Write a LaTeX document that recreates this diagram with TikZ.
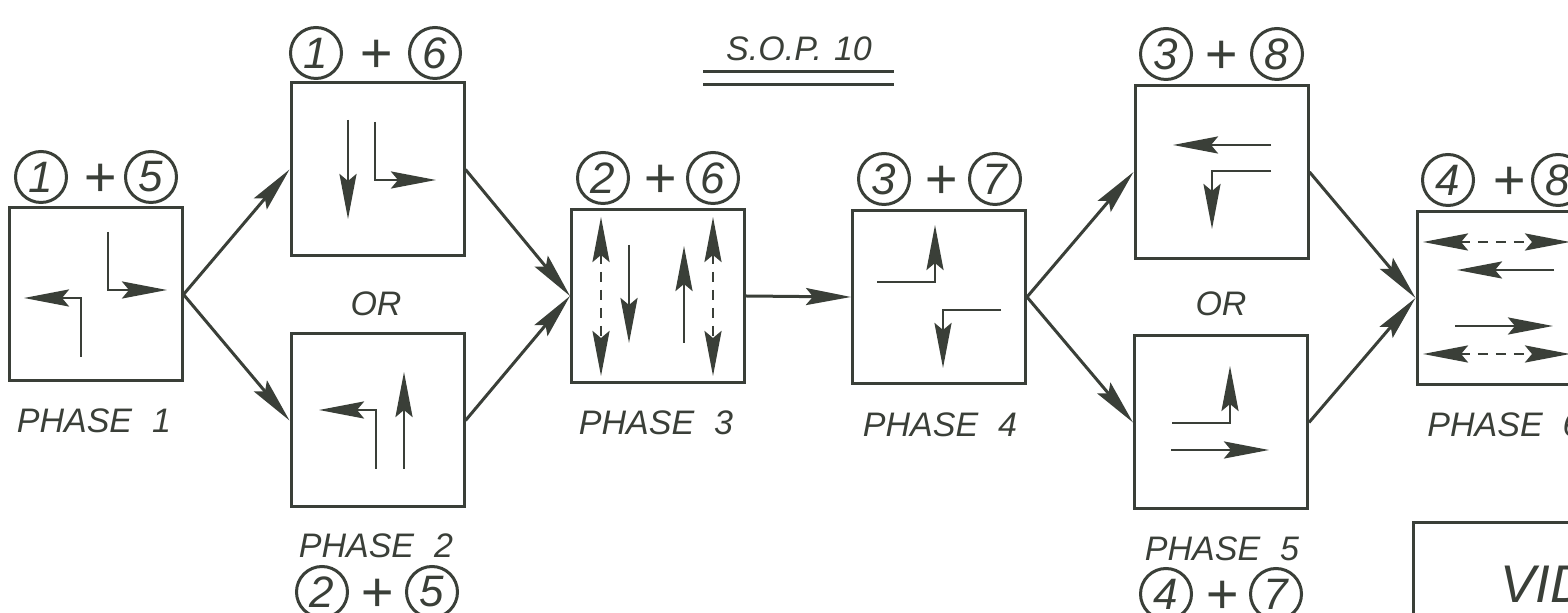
\documentclass[tikz,border=0pt]{standalone}
\usepackage{fontspec}
\setmainfont{Liberation Sans}
\usetikzlibrary{arrows.meta}
\definecolor{ink}{HTML}{3A3F38}
\newcommand{\phgap}{\hspace{10pt}}
\tikzset{
  x=0.5pt,y=-0.5pt,
  phasebox/.style={draw=ink,line width=1.5pt,minimum size=86.5pt,inner sep=0pt},
  lab/.style={text=ink,font=\itshape\fontsize{17}{20}\selectfont,inner sep=0pt},
  num/.style={draw=ink,circle,line width=1.5pt,minimum size=25.5pt,inner sep=0pt,text=ink,font=\itshape\fontsize{22}{24}\selectfont},
  plusmark/.style={text=ink,font=\itshape\fontsize{28}{28}\selectfont,inner sep=0pt,yshift=-1.5pt},
  link/.style={draw=ink,line width=1.5pt,-{Stealth[length=22.5pt,width=8.5pt,inset=3.5pt]}},
  sig/.style={draw=ink,line width=1.4pt,-{Stealth[length=22.5pt,width=8.5pt,inset=3.5pt]}},
  dsig/.style={draw=ink,line width=1.4pt,dash pattern=on 5pt off 4pt,{Stealth[length=22.5pt,width=8.5pt,inset=3.5pt]}-{Stealth[length=22.5pt,width=8.5pt,inset=3.5pt]}}
}
\begin{document}
\begin{tikzpicture}
\path[use as bounding box,clip] (0,0) rectangle (1568,613);
\fill[white] (0,0) rectangle (1568,613);
% boxes
\node[phasebox] (p1) at (95.5,294.5) {};
\node[phasebox] (p2a) at (377.5,169.5) {};
\node[phasebox] (p2b) at (377.5,420.5) {};
\node[phasebox] (p3) at (658,296) {};
\node[phasebox] (p4) at (939,297) {};
\node[phasebox] (p5a) at (1221.5,172) {};
\node[phasebox] (p5b) at (1221,422.5) {};
\node[phasebox] (p6) at (1503.5,298) {};
\node[draw=ink,line width=1.5pt,minimum width=150pt,minimum height=90pt,inner sep=0pt,anchor=north west] (vid) at (1412,521) {};
% links
\draw[link] (p1.east) -- (p2a.west);
\draw[link] (p1.east) -- (p2b.west);
\draw[link] (p2a.east) -- (p3.west);
\draw[link] (p2b.east) -- (p3.west);
\draw[link] (p3.east) -- (p4.west);
\draw[link] (p4.east) -- (p5a.west);
\draw[link] (p4.east) -- (p5b.west);
\draw[link] (p5a.east) -- (p6.west);
\draw[link] (p5b.east) -- (p6.west);
% phase 1
\coordinate (a1) at (81,357); \coordinate (a2) at (24,298);
\coordinate (a3) at (108,232); \coordinate (a4) at (167,290);
\draw[sig] (a1) |- (a2);
\draw[sig] (a3) |- (a4);
% phase 2 top
\coordinate (b1) at (348,120); \coordinate (b2) at (348,219);
\coordinate (b3) at (375,122); \coordinate (b4) at (436,180);
\draw[sig] (b1) -- (b2);
\draw[sig] (b3) |- (b4);
% phase 2 bottom
\coordinate (c1) at (376,469); \coordinate (c2) at (319,410);
\coordinate (c3) at (404,469); \coordinate (c4) at (404,372);
\draw[sig] (c1) |- (c2);
\draw[sig] (c3) -- (c4);
% phase 3
\coordinate (d1) at (601,217); \coordinate (d2) at (601,376);
\coordinate (d3) at (629,245); \coordinate (d4) at (629,343);
\coordinate (d5) at (684,343); \coordinate (d6) at (684,246);
\coordinate (d7) at (713,217); \coordinate (d8) at (713,376);
\draw[dsig] (d1) -- (d2);
\draw[sig] (d3) -- (d4);
\draw[sig] (d5) -- (d6);
\draw[dsig] (d7) -- (d8);
% phase 4
\coordinate (e1) at (877,282); \coordinate (e2) at (935,225);
\coordinate (e3) at (1001,310); \coordinate (e4) at (943,368);
\draw[sig] (e1) -| (e2);
\draw[sig] (e3) -| (e4);
% phase 5 top
\coordinate (f1) at (1271,145); \coordinate (f2) at (1173,145);
\coordinate (f3) at (1271,171); \coordinate (f4) at (1212,229);
\draw[sig] (f1) -- (f2);
\draw[sig] (f3) -| (f4);
% phase 5 bottom
\coordinate (g1) at (1172,423); \coordinate (g2) at (1230,366);
\coordinate (g3) at (1171,450); \coordinate (g4) at (1269,450);
\draw[sig] (g1) -| (g2);
\draw[sig] (g3) -- (g4);
% phase 6
\coordinate (h1) at (1423,242); \coordinate (h2) at (1570,242);
\coordinate (h3) at (1554,270); \coordinate (h4) at (1457,270);
\coordinate (h5) at (1455,326); \coordinate (h6) at (1553,326);
\coordinate (h7) at (1423,354); \coordinate (h8) at (1570,354);
\draw[dsig] (h1) -- (h2);
\draw[sig] (h3) -- (h4);
\draw[sig] (h5) -- (h6);
\draw[dsig] (h7) -- (h8);
% numbers
\node[num] (n11) at (41,177) {1}; \node[plusmark] (n12) at (100,177) {+}; \node[num] (n13) at (151,177) {5};
\node[num] (n21) at (316,53) {1}; \node[plusmark] (n22) at (376,53) {+}; \node[num] (n23) at (435,53) {6};
\node[num] (n31) at (322,592) {2}; \node[plusmark] (n32) at (377,592) {+}; \node[num] (n33) at (432,592) {5};
\node[num] (n41) at (603,178) {2}; \node[plusmark] (n42) at (660,178) {+}; \node[num] (n43) at (713,178) {6};
\node[num] (n51) at (884,179) {3}; \node[plusmark] (n52) at (941,179) {+}; \node[num] (n53) at (995,179) {7};
\node[num] (n61) at (1166,54) {3}; \node[plusmark] (n62) at (1221,54) {+}; \node[num] (n63) at (1277,54) {8};
\node[num] (n71) at (1166,594) {4}; \node[plusmark] (n72) at (1222,594) {+}; \node[num] (n73) at (1276,594) {7};
\node[num] (n81) at (1448,180) {4}; \node[plusmark] (n82) at (1509,180) {+}; \node[num] (n83) at (1558,180) {8};
% labels
\node[lab] (l1) at (94,421) {PHASE\phgap 1};
\node[lab] (l2) at (376,546) {PHASE\phgap 2};
\node[lab] (l3) at (656,423) {PHASE\phgap 3};
\node[lab] (l4) at (940,425) {PHASE\phgap 4};
\node[lab] (l5) at (1222,549) {PHASE\phgap 5};
\node[lab,anchor=west] (l6) at (1427,425) {PHASE\phgap 6};
\node[lab] (o1) at (376,304) {OR};
\node[lab] (o2) at (1221,304) {OR};
\node[lab] (sop) at (799,49) {S.O.P.\hspace{6pt}10};
\coordinate (u1) at (703,72); \coordinate (u2) at (894,72);
\coordinate (u3) at (703,85); \coordinate (u4) at (894,85);
\draw[ink,line width=1.5pt] (u1) -- (u2);
\draw[ink,line width=1.5pt] (u3) -- (u4);
\node[text=ink,font=\itshape\fontsize{26.5}{28}\selectfont,inner sep=0pt,anchor=west] (vt) at (1500,584) {VID};
\end{tikzpicture}
\end{document}
